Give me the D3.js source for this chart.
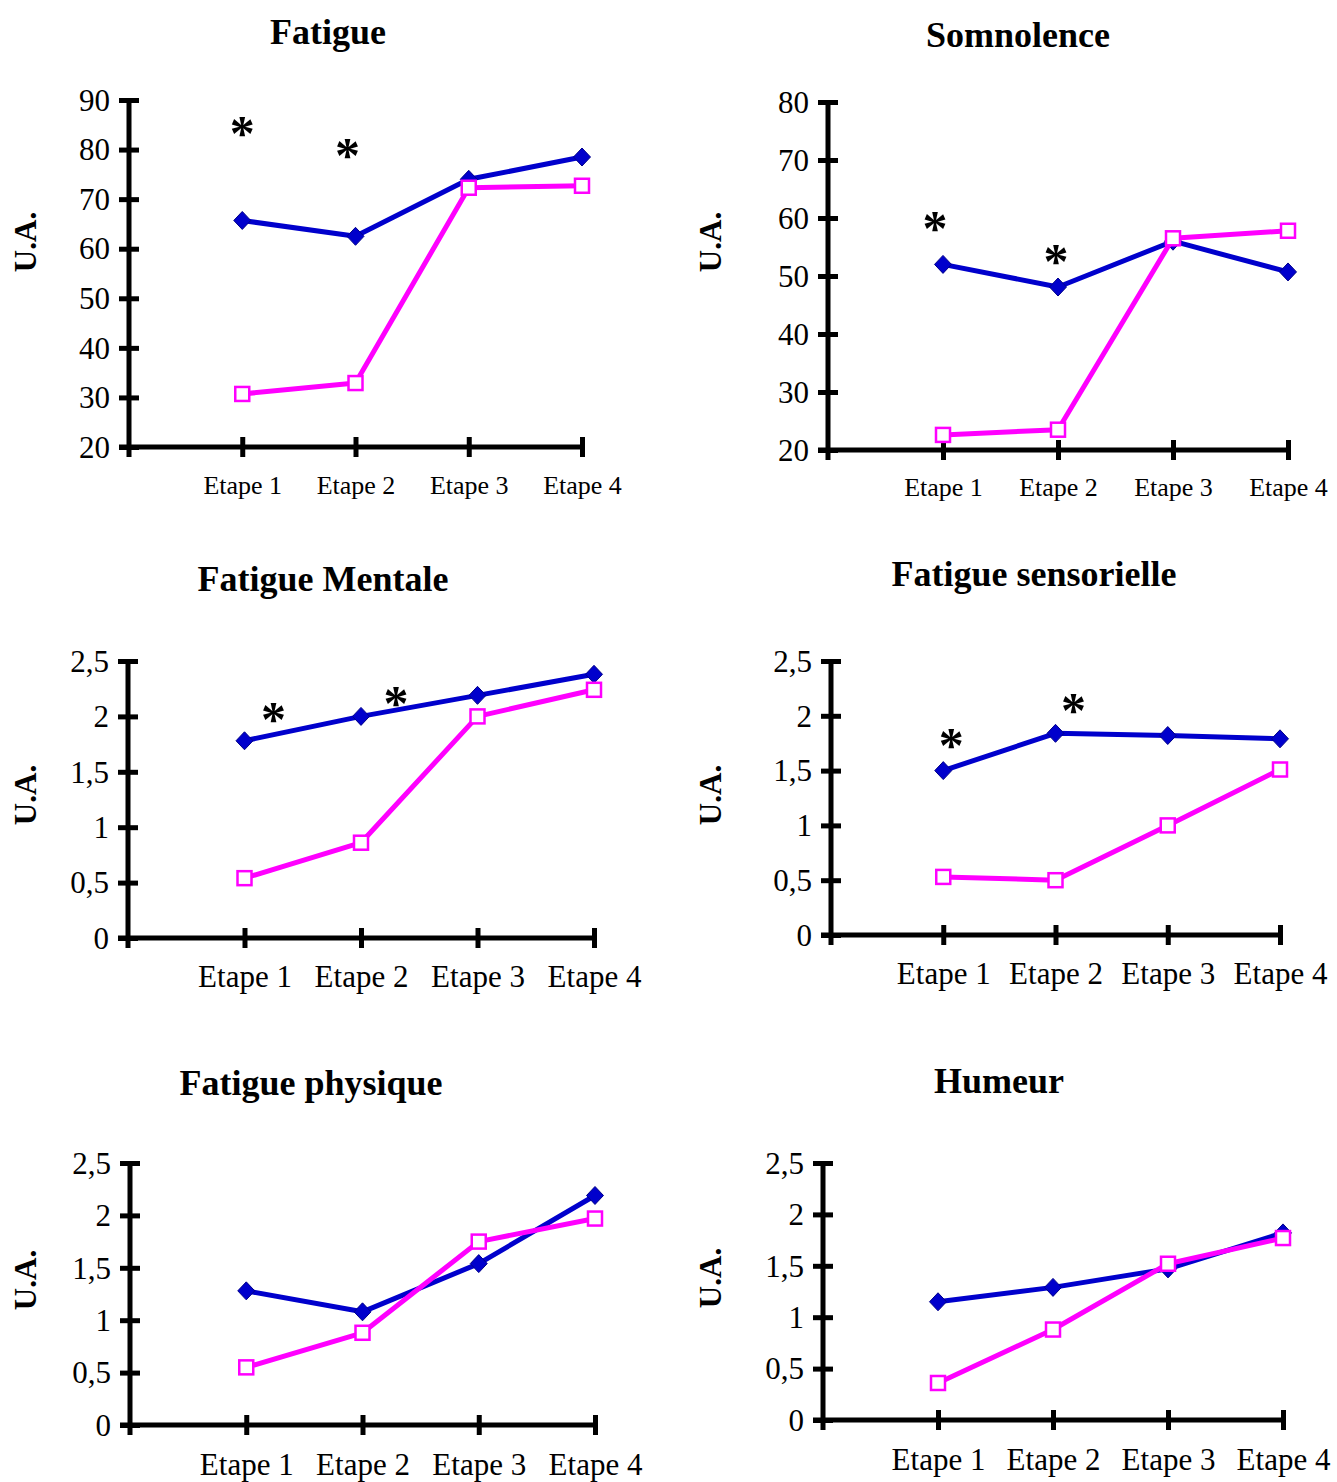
<!DOCTYPE html>
<html>
<head>
<meta charset="utf-8">
<script src="https://cdn.jsdelivr.net/npm/d3@7"></script>
<style>
  body { margin: 0; background: #fff; }
  text { font-family: "Liberation Serif", "Times New Roman", serif; fill: #000; }
</style>
</head>
<body>
<div id="chart"></div>
<script>
// categories
var etapes = ["Etape 1", "Etape 2", "Etape 3", "Etape 4"];

// Fatigue
var fatigueBlue = [65.7, 62.5, 74.0, 78.5];
var fatiguePink = [30.7, 32.9, 72.3, 72.7];
var fatigueStars = [84.5, 80.0];
var fatigueTicks = [20, 30, 40, 50, 60, 70, 80, 90];

// Somnolence
var somnoBlue = [52.0, 48.1, 56.0, 50.7];
var somnoPink = [22.6, 23.5, 56.5, 57.8];
var somnoStars = [59.3, 53.6];
var somnoTicks = [20, 30, 40, 50, 60, 70, 80];

// Fatigue Mentale
var mentaleBlue = [1.78, 2.0, 2.19, 2.38];
var mentalePink = [0.54, 0.86, 2.0, 2.24];
var mentaleStars = [2.03, 2.17];

// Fatigue sensorielle
var sensoBlue = [1.5, 1.84, 1.82, 1.79];
var sensoPink = [0.53, 0.5, 1.0, 1.51];
var sensoStars = [1.78, 2.1];

// Fatigue physique
var physBlue = [1.28, 1.08, 1.54, 2.19];
var physPink = [0.55, 0.88, 1.75, 1.97];

// Humeur
var humeurBlue = [1.15, 1.29, 1.47, 1.82];
var humeurPink = [0.36, 0.88, 1.52, 1.77];

var scoreTicks = [0, 0.5, 1, 1.5, 2, 2.5];

var BLUE = "#0000cc",
    PINK = "#ff00ff",
    FONT = "'Liberation Serif', 'Times New Roman', serif";

var svg = d3.select("#chart").append("svg")
    .attr("width", 1337)
    .attr("height", 1482);

Panel = function(_cfg){
    this.cfg = _cfg;
    this.initVis();
}

Panel.prototype.initVis = function() {
    var vis = this,
        c = vis.cfg;

    vis.g = svg.append("g");

    vis.x = d3.scalePoint()
        .domain([""].concat(etapes))
        .range([c.x0, c.x4]);

    vis.y = d3.scaleLinear()
        .domain([c.ticks[0], c.ticks[c.ticks.length - 1]])
        .range([c.yBottom, c.yTop]);

    // title
    vis.g.append("text")
        .attr("x", c.titleX)
        .attr("y", c.titleY)
        .attr("text-anchor", "middle")
        .style("font-size", "36px")
        .style("font-weight", "bold")
        .text(c.title);

    // U.A.
    vis.g.append("text")
        .attr("transform", "translate(" + c.uaX + "," + c.uaY + ") rotate(-90)")
        .attr("text-anchor", "middle")
        .attr("dy", "0.35em")
        .style("font-size", "31px")
        .style("font-weight", "bold")
        .text("U.A.");

    // y axis
    var yAxis = d3.axisLeft(vis.y)
        .tickValues(c.ticks)
        .tickSizeOuter(0)
        .tickFormat(function(d){ return String(d).replace(".", ","); });

    var gy = vis.g.append("g")
        .attr("transform", "translate(" + c.x0 + ",0)")
        .call(yAxis);
    gy.select(".domain").remove();
    gy.selectAll(".tick line")
        .attr("x1", -10).attr("x2", 10)
        .attr("stroke", "#000").attr("stroke-width", 5);
    gy.selectAll(".tick text")
        .attr("x", -19)
        .attr("dy", "0.33em")
        .style("font-family", FONT)
        .style("font-size", c.yFont + "px");

    // x axis
    var xAxis = d3.axisBottom(vis.x)
        .tickValues(etapes)
        .tickSizeOuter(0);

    var gx = vis.g.append("g")
        .attr("transform", "translate(0," + c.yBottom + ")")
        .call(xAxis);
    gx.select(".domain").remove();
    gx.selectAll(".tick line")
        .attr("y1", -10).attr("y2", 10)
        .attr("stroke", "#000").attr("stroke-width", 5);
    gx.selectAll(".tick text")
        .attr("y", c.xLabelDy)
        .attr("dy", "0.35em")
        .style("font-family", FONT)
        .style("font-size", c.xFont + "px");

    // axis lines
    vis.g.append("line")
        .attr("x1", c.x0).attr("x2", c.x0)
        .attr("y1", c.yTop - 2).attr("y2", c.yBottom + 10)
        .attr("stroke", "#000").attr("stroke-width", 5);
    vis.g.append("line")
        .attr("x1", c.x0 - 10).attr("x2", c.x4 + 2)
        .attr("y1", c.yBottom).attr("y2", c.yBottom)
        .attr("stroke", "#000").attr("stroke-width", 5);

    var line = d3.line()
        .x(function(d, i){ return vis.x(etapes[i]); })
        .y(function(d){ return vis.y(d); });

    // blue series
    vis.g.append("path")
        .datum(c.blue)
        .attr("d", line)
        .attr("fill", "none")
        .attr("stroke", BLUE)
        .attr("stroke-width", 5)
        .attr("stroke-linejoin", "round");

    vis.g.selectAll(".diamond")
        .data(c.blue)
        .enter().append("path")
        .attr("class", "diamond")
        .attr("d", "M0,-9L8.5,0L0,9L-8.5,0Z")
        .attr("transform", function(d, i){
            return "translate(" + vis.x(etapes[i]) + "," + vis.y(d) + ")"; })
        .attr("fill", BLUE)
        .attr("stroke", "#00008a")
        .attr("stroke-width", 1);

    // pink series
    vis.g.append("path")
        .datum(c.pink)
        .attr("d", line)
        .attr("fill", "none")
        .attr("stroke", PINK)
        .attr("stroke-width", 5)
        .attr("stroke-linejoin", "round");

    vis.g.selectAll(".square")
        .data(c.pink)
        .enter().append("rect")
        .attr("class", "square")
        .attr("x", function(d, i){ return vis.x(etapes[i]) - 7; })
        .attr("y", function(d){ return vis.y(d) - 7; })
        .attr("width", 14)
        .attr("height", 14)
        .attr("fill", "#fff")
        .attr("stroke", PINK)
        .attr("stroke-width", 2.5);

    // significance stars
    if (c.stars) {
        vis.g.selectAll(".star")
            .data(c.stars)
            .enter().append("text")
            .attr("class", "star")
            .attr("x", function(d, i){ return vis.x(etapes[i]) + c.starDx[i]; })
            .attr("y", function(d){ return vis.y(d); })
            .attr("dy", "0.45em")
            .attr("text-anchor", "middle")
            .style("font-size", "50px")
            .style("font-weight", "bold")
            .text("*");
    }
};

new Panel({title: "Fatigue", blue: fatigueBlue, pink: fatiguePink, stars: fatigueStars, ticks: fatigueTicks,
    x0: 129, x4: 582, yTop: 100, yBottom: 447, titleX: 328, titleY: 44, uaX: 25, uaY: 242,
    starDx: [0, -8], yFont: 31, xFont: 26, xLabelDy: 38});

new Panel({title: "Somnolence", blue: somnoBlue, pink: somnoPink, stars: somnoStars, ticks: somnoTicks,
    x0: 828, x4: 1288, yTop: 102, yBottom: 450, titleX: 1018, titleY: 47, uaX: 710, uaY: 242,
    starDx: [-8, -2], yFont: 31, xFont: 26, xLabelDy: 37});

new Panel({title: "Fatigue Mentale", blue: mentaleBlue, pink: mentalePink, stars: mentaleStars, ticks: scoreTicks,
    x0: 128, x4: 594, yTop: 661, yBottom: 938, titleX: 323, titleY: 591, uaX: 25, uaY: 795,
    starDx: [29, 35], yFont: 31, xFont: 31, xLabelDy: 38});

new Panel({title: "Fatigue sensorielle", blue: sensoBlue, pink: sensoPink, stars: sensoStars, ticks: scoreTicks,
    x0: 831, x4: 1280, yTop: 661, yBottom: 935, titleX: 1034, titleY: 586, uaX: 710, uaY: 795,
    starDx: [8, 18], yFont: 31, xFont: 31, xLabelDy: 38});

new Panel({title: "Fatigue physique", blue: physBlue, pink: physPink, stars: null, ticks: scoreTicks,
    x0: 130, x4: 595, yTop: 1163, yBottom: 1425, titleX: 311, titleY: 1095, uaX: 25, uaY: 1280,
    yFont: 31, xFont: 31, xLabelDy: 39});

new Panel({title: "Humeur", blue: humeurBlue, pink: humeurPink, stars: null, ticks: scoreTicks,
    x0: 823, x4: 1283, yTop: 1163, yBottom: 1420, titleX: 999, titleY: 1093, uaX: 710, uaY: 1278,
    yFont: 31, xFont: 31, xLabelDy: 39});
</script>
</body>
</html>
